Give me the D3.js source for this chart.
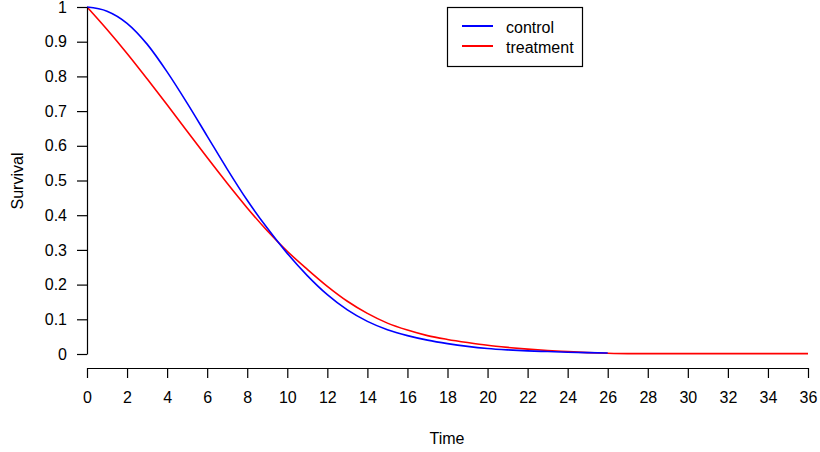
<!DOCTYPE html>
<html>
<head>
<meta charset="utf-8">
<script src="https://cdn.jsdelivr.net/npm/d3@7"></script>
<style>
  body { margin: 0; background: #fff; }
  text { font-family: "Liberation Sans", Arial, sans-serif; fill: #000; }
</style>
</head>
<body>
<div id="chart"></div>
<script>
// survival estimates, one per time unit
const controlTime = d3.range(0, 27);
const controlSurv = [1.0, 0.988, 0.953, 0.893, 0.813, 0.723, 0.628, 0.533, 0.443, 0.363, 0.29,
  0.226, 0.171, 0.127, 0.094, 0.070, 0.053, 0.040, 0.030, 0.022, 0.016, 0.012, 0.009, 0.007,
  0.005, 0.004, 0.003];
const treatTime = d3.range(0, 37);
const treatSurv = [1.0, 0.935, 0.866, 0.793, 0.718, 0.642, 0.566, 0.492, 0.421, 0.355, 0.296,
  0.244, 0.195, 0.152, 0.117, 0.089, 0.069, 0.053, 0.042, 0.033, 0.025, 0.019, 0.014, 0.010,
  0.007, 0.004, 0.002, 0.001, 0.001, 0.001, 0.001, 0.001, 0.001, 0.001, 0.001, 0.001, 0.001];
const xTicks = d3.range(0, 37, 2);
const yTicks = [0, 0.1, 0.2, 0.3, 0.4, 0.5, 0.6, 0.7, 0.8, 0.9, 1];
const seriesNames = ['control', 'treatment'];
const seriesColors = ['#0000ff', '#ff0000'];

const w = 820;
const h = 452;
const fontSize = '16px';

const xScale = d3.scaleLinear().domain([0, 36]).range([87, 808]);
const yScale = d3.scaleLinear().domain([0, 1]).range([354, 7]);

const svg = d3.select('#chart')
              .append('svg')
              .attr('width', w)
              .attr('height', h);

//Curves
const line = d3.line()
               .x(d => xScale(d[0]))
               .y(d => yScale(d[1]))
               .curve(d3.curveMonotoneX);

const series = [
  d3.zip(controlTime, controlSurv),
  d3.zip(treatTime, treatSurv)
];

// treatment first so control sits on top at the tail, like the original
[1, 0].forEach(i => {
  svg.append('path')
     .datum(series[i])
     .attr('fill', 'none')
     .attr('stroke', seriesColors[i])
     .attr('stroke-width', 1.6)
     .attr('d', line);
});

//Axes
const xAxis = d3.axisBottom(xScale).tickValues(xTicks).tickSize(10).tickPadding(14).tickSizeOuter(0);
const yAxis = d3.axisLeft(yScale).tickValues(yTicks).tickSize(10).tickPadding(10).tickSizeOuter(0)
                .tickFormat(d => d3.format('~g')(d));

const gx = svg.append('g')
   .attr('transform', 'translate(0, 368)')
   .call(xAxis);

const gy = svg.append('g')
   .attr('transform', 'translate(87, 0)')
   .call(yAxis);

[gx, gy].forEach(g => {
  g.selectAll('path, line').attr('stroke', '#000').attr('stroke-width', 1.2);
  g.selectAll('text').style('font-size', fontSize).style('font-family', '"Liberation Sans", Arial, sans-serif').attr('fill', '#000');
});

//Axis labels
svg.append('text')
   .attr('x', 447)
   .attr('y', 444)
   .attr('text-anchor', 'middle')
   .style('font-size', fontSize)
   .text('Time');

svg.append('text')
   .attr('transform', 'rotate(-90)')
   .attr('x', -181)
   .attr('y', 23)
   .attr('text-anchor', 'middle')
   .style('font-size', fontSize)
   .text('Survival');

//Legend
svg.append('rect')
   .attr('x', 447.5)
   .attr('y', 7.5)
   .attr('width', 135)
   .attr('height', 59)
   .attr('fill', '#fff')
   .attr('stroke', '#000')
   .attr('stroke-width', 1.2);

seriesNames.forEach((name, i) => {
  const yy = 26 + i * 20;
  svg.append('line')
     .attr('x1', 462)
     .attr('x2', 493)
     .attr('y1', yy)
     .attr('y2', yy)
     .attr('stroke', seriesColors[i])
     .attr('stroke-width', 2);
  svg.append('text')
     .attr('x', 506)
     .attr('y', yy + 7)
     .style('font-size', fontSize)
     .text(name);
});
</script>
</body>
</html>
